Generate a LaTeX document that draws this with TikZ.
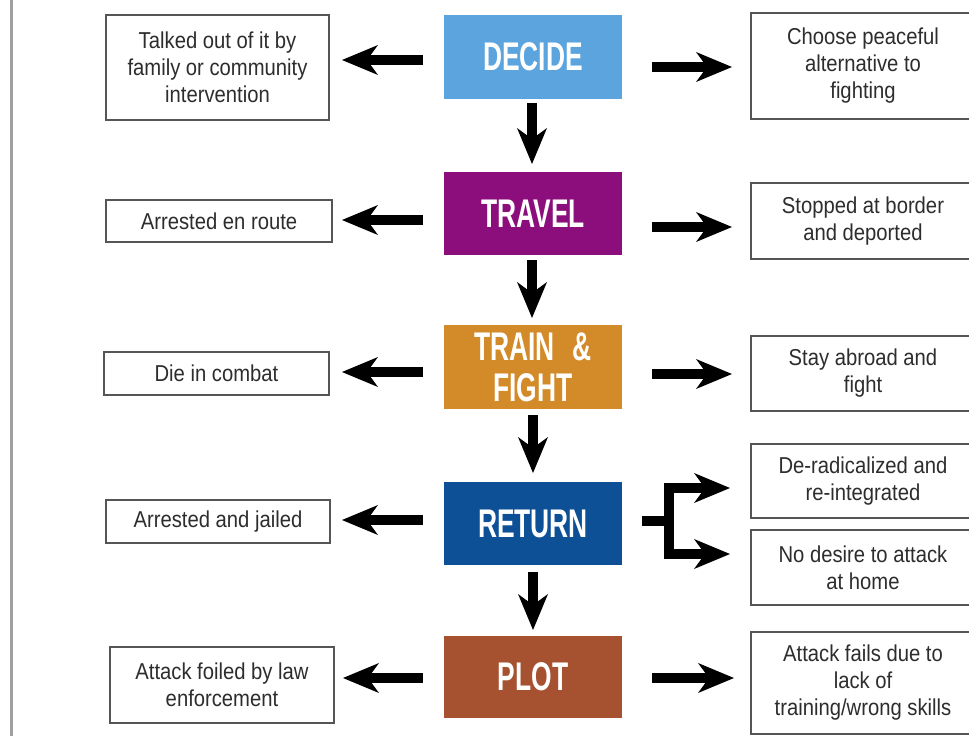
\documentclass[tikz,border=0pt]{standalone}
\usepackage{fontspec}
\newfontfamily\boxfont[FakeStretch=0.88]{Liberation Sans}
\newfontfamily\headfont[FakeStretch=0.66]{Liberation Sans}
\usetikzlibrary{arrows.meta,calc}
\definecolor{cdecide}{RGB}{91,164,222}
\definecolor{ctravel}{RGB}{139,14,124}
\definecolor{ctrain}{RGB}{211,139,42}
\definecolor{creturn}{RGB}{14,80,150}
\definecolor{cplot}{RGB}{166,81,48}
\definecolor{boxgray}{RGB}{85,85,85}
\definecolor{textgray}{RGB}{45,45,45}
\definecolor{rulegray}{RGB}{160,160,160}
\tikzset{
  sidebox/.style={draw=boxgray, line width=2.5pt, fill=white, text=textgray,
    inner sep=0pt, outer sep=0pt, align=center,
    font=\boxfont\fontsize{23}{27}\selectfont},
  stage/.style={inner sep=0pt, outer sep=0pt, minimum width=178pt, text=white,
    align=center, font=\headfont\bfseries\fontsize{40}{41}\selectfont},
  arr/.style={line width=10pt, line join=miter,
    -{Stealth[length=36pt,width=30pt,inset=11pt,line width=0pt]}},
  fork/.style={line width=10pt}
}
\begin{document}
\begin{tikzpicture}[x=1pt,y=-1pt]
\path[use as bounding box, fill=white] (0,0) rectangle (969,736);
\clip (0,0) rectangle (969,736);
\draw[rulegray, line width=3pt] (11,0) -- (11,736);

% stages
\node[stage, fill=cdecide, minimum height=84pt] (decide) at (533,57) {DECIDE};
\node[stage, fill=ctravel, minimum height=83pt] (travel) at (533,213.5) {TRAVEL};
\node[stage, fill=ctrain, minimum height=84pt] (train) at (533,367) {TRAIN\hspace{0.45em}\&\\FIGHT};
\node[stage, fill=creturn, minimum height=83pt] (return) at (533,523.5) {RETURN};
\node[stage, fill=cplot, minimum height=82pt] (plot) at (533,677) {PLOT};

% left outcomes
\node[sidebox, minimum width=223pt, minimum height=105pt] (l1) at (217.5,67.5) {Talked out of it by\\family or community\\intervention};
\node[sidebox, minimum width=226pt, minimum height=42pt] (l2) at (219,221) {Arrested en route};
\node[sidebox, minimum width=225pt, minimum height=43pt] (l3) at (216.5,373.5) {Die in combat};
\node[sidebox, minimum width=224pt, minimum height=43pt] (l4) at (218,521.5) {Arrested and jailed};
\node[sidebox, minimum width=224pt, minimum height=76pt] (l5) at (222,685) {Attack foiled by law\\enforcement};

% right outcomes
\node[sidebox, minimum width=224pt, minimum height=106pt] (r1) at (863,66) {Choose peaceful\\alternative to\\fighting};
\node[sidebox, minimum width=224pt, minimum height=76pt] (r2) at (863,221) {Stopped at border\\and deported};
\node[sidebox, minimum width=224pt, minimum height=75pt] (r3) at (863,373.5) {Stay abroad and\\fight};
\node[sidebox, minimum width=224pt, minimum height=74pt] (r4) at (863,481) {De-radicalized and\\re-integrated};
\node[sidebox, minimum width=224pt, minimum height=75pt] (r5) at (863,567.5) {No desire to attack\\at home};
\node[sidebox, minimum width=224pt, minimum height=102pt] (r6) at (863,683) {Attack fails due to\\lack of\\training/wrong skills};

% down arrows
\draw[arr] ($(decide.south)+(-1,4)$) -- ($(travel.north)+(-1,-8)$);
\draw[arr] ($(travel.south)+(-1,5)$) -- ($(train.north)+(-1,-7)$);
\draw[arr] ($(train.south)+(0,6)$) -- ($(return.north)+(0,-9)$);
\draw[arr] ($(return.south)+(0,7)$) -- ($(plot.north)+(0,-6)$);

% left arrows
\draw[arr] ($(decide.west)+(-21,3)$) -- ($(l1.east)+(13,-7.5)$);
\draw[arr] ($(travel.west)+(-21,6.5)$) -- ($(l2.east)+(10,-1)$);
\draw[arr] ($(train.west)+(-21,5)$) -- ($(l3.east)+(13,-1.5)$);
\draw[arr] ($(return.west)+(-21,-3.5)$) -- ($(l4.east)+(12,-1.5)$);
\draw[arr] ($(plot.west)+(-21,1)$) -- ($(l5.east)+(9,-7)$);

% right arrows
\draw[arr] ($(decide.east)+(30,10)$) -- ($(r1.west)+(-19,1)$);
\draw[arr] ($(travel.east)+(30,13.5)$) -- ($(r2.west)+(-19,6)$);
\draw[arr] ($(train.east)+(30,7)$) -- ($(r3.west)+(-19,0.5)$);
\draw[arr] ($(plot.east)+(30,1)$) -- ($(r6.west)+(-17,-5)$);

% fork from RETURN
\coordinate (split) at ($(return.east)+(47,-2.5)$);
\draw[fork] ($(return.east)+(20,-2.5)$) -- (split);
\draw[arr] (split) |- ($(r4.west)+(-21,7)$);
\draw[arr] (split) |- ($(r5.west)+(-21,-13.5)$);
\end{tikzpicture}
\end{document}
